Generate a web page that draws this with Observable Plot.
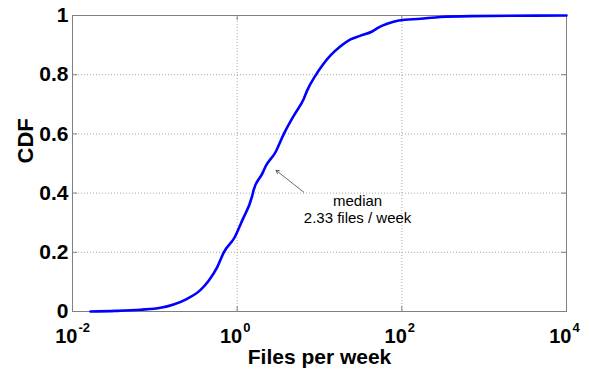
<!DOCTYPE html>
<html>
<head>
<meta charset="utf-8">
<script src="https://cdn.jsdelivr.net/npm/d3@7"></script>
<script src="https://cdn.jsdelivr.net/npm/@observablehq/plot@0.6"></script>
<style>
  html, body { margin: 0; padding: 0; background: #fff; }
  #chart svg { display: block; }
</style>
</head>
<body>
<div id="chart"></div>
<script>
// Empirical CDF of files per week
const filesPerWeek = [0.01655, 0.0333, 0.067, 0.117, 0.169, 0.247, 0.359, 0.453, 0.573, 0.689,
  0.929, 1.15, 1.52, 1.58, 2.01, 2.21, 2.92, 3.69, 4.88, 6.45, 7.09, 8.93, 10.8, 13.6, 18.0,
  23.8, 31.5, 43.6, 52.5, 66.4, 91.8, 169, 295, 683, 10000];
const cdf = [0, 0.002, 0.006, 0.0125, 0.024, 0.043, 0.073, 0.105, 0.15, 0.2,
  0.25, 0.307, 0.39, 0.409, 0.465, 0.49, 0.538, 0.6, 0.662, 0.719, 0.747, 0.797, 0.831, 0.865, 0.896,
  0.919, 0.932, 0.946, 0.96, 0.972, 0.983, 0.989, 0.995, 0.998, 1.0];

// Axis ticks
const xTicks = [0.01, 1, 100, 10000];
const xTickExponents = ["-2", "0", "2", "4"];
const yTicks = [0, 0.2, 0.4, 0.6, 0.8, 1];
const yTickLabels = ["0", "0.2", "0.4", "0.6", "0.8", "1"];
const xGrid = [1, 100];
const yGrid = [0.2, 0.4, 0.6, 0.8];

// Median annotation
const medianValue = 2.33;
const medianCdf = 0.5;
const noteTail = {x: 6.44, y: 0.403};
const noteText = {x: 29, y: 0.30, text: "median\n" + medianValue + " files / week"};

const points = filesPerWeek.map((x, i) => ({x, y: cdf[i]}));
const font = "'Liberation Sans', Arial, Helvetica, sans-serif";

const chart = Plot.plot({
  width: 590,
  height: 371,
  marginLeft: 72,
  marginRight: 24,
  marginTop: 15,
  marginBottom: 60,
  style: {fontFamily: font, background: "#fff", color: "#000"},
  x: {type: "log", domain: [0.01, 10000], axis: null},
  y: {domain: [0, 1], axis: null},
  marks: [
    // dotted grid
    Plot.gridY(yGrid, {stroke: "#a8a8a8", strokeOpacity: 1, strokeDasharray: "1,2"}),
    Plot.gridX(xGrid, {stroke: "#a8a8a8", strokeOpacity: 1, strokeDasharray: "1,2"}),
    // inward ticks on all four sides
    Plot.tickX(xTicks, {x: d => d, stroke: "#808080", insetTop: 291}),
    Plot.tickX(xTicks, {x: d => d, stroke: "#808080", insetBottom: 291}),
    Plot.tickY(yTicks, {y: d => d, stroke: "#808080", insetRight: 489}),
    Plot.tickY(yTicks, {y: d => d, stroke: "#808080", insetLeft: 489}),
    Plot.frame({stroke: "#808080", strokeWidth: 1}),
    // CDF curve
    Plot.line(points, {x: "x", y: "y", stroke: "#0000ff", strokeWidth: 2.6, curve: "monotone-x"}),
    // median arrow and note
    Plot.arrow([{x1: noteTail.x, y1: noteTail.y, x2: medianValue, y2: medianCdf}], {
      x1: "x1", y1: "y1", x2: "x2", y2: "y2",
      stroke: "#444", strokeWidth: 0.8, headLength: 7, insetEnd: 11
    }),
    Plot.text([noteText], {
      x: "x", y: "y", text: "text", textAnchor: "middle", lineAnchor: "bottom",
      lineHeight: 1.1, fontSize: 15, fill: "#000"
    }),
    // y tick labels
    Plot.text(yTicks, {
      y: d => d, text: (d, i) => yTickLabels[i], frameAnchor: "left",
      textAnchor: "end", dx: -4, fontSize: 21, fontWeight: "bold", fill: "#000"
    }),
    // x tick labels: base and superscript exponent
    Plot.text(xTicks, {
      x: d => d, text: () => "10", frameAnchor: "bottom", lineAnchor: "bottom",
      textAnchor: "end", dx: 5, dy: 31, fontSize: 20, fontWeight: "bold", fill: "#000"
    }),
    Plot.text(xTicks, {
      x: d => d, text: (d, i) => xTickExponents[i], frameAnchor: "bottom", lineAnchor: "bottom",
      textAnchor: "start", dx: 6, dy: 20.5, fontSize: 13, fontWeight: "bold", fill: "#000"
    }),
    // axis titles
    Plot.text(["Files per week"], {
      text: d => d, frameAnchor: "bottom", lineAnchor: "bottom", dy: 52.5,
      fontSize: 21, fontWeight: "bold", fill: "#000"
    }),
    Plot.text(["CDF"], {
      text: d => d, frameAnchor: "left", rotate: -90, dx: -47,
      fontSize: 22, fontWeight: "bold", fill: "#000"
    })
  ]
});

document.getElementById("chart").appendChild(chart);
</script>
</body>
</html>
